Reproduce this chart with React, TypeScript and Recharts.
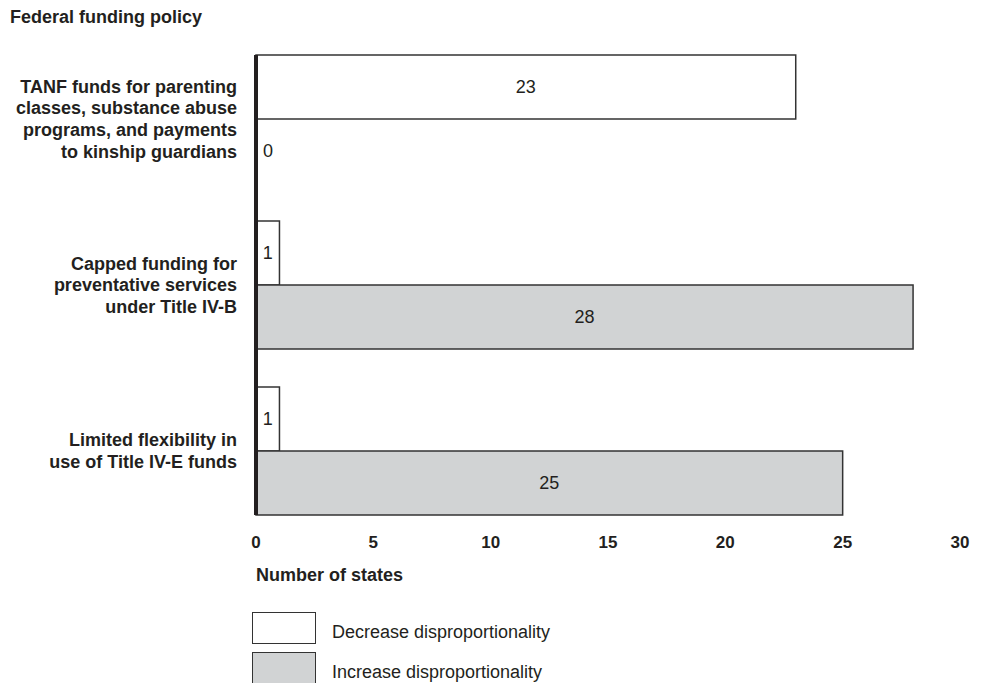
import { BarChart, Bar, XAxis, YAxis, Legend, LabelList } from "recharts";

const categories = [
  "TANF funds for parenting\nclasses, substance abuse\nprograms, and payments\nto kinship guardians",
  "Capped funding for\npreventative services\nunder Title IV-B",
  "Limited flexibility in\nuse of Title IV-E funds",
];
const decreaseValues = [23, 1, 1];
const increaseValues = [0, 28, 25];
const xTicks = [0, 5, 10, 15, 20, 25, 30];

const FONT = "'Liberation Sans', Arial, Helvetica, sans-serif";
const INK = "#231f20";
const GRAY = "#d1d3d4";

const data = categories.map((c, i) => ({
  policy: c,
  decrease: decreaseValues[i],
  increase: increaseValues[i],
}));

function PolicyTick(props: any) {
  const { x, y, payload } = props;
  const lines = String(payload.value).split("\n");
  const lh = 21.7;
  const start = y - ((lines.length - 1) * lh) / 2;
  return (
    <text x={x} y={start} textAnchor="end" fontFamily={FONT} fontSize={18} fontWeight="bold" fill={INK}>
      {lines.map((l, i) => (
        <tspan key={i} x={x} y={start + i * lh} dy="0.35em">
          {l}
        </tspan>
      ))}
    </text>
  );
}

function ValueLabel(props: any) {
  const { x, y, width, height, value } = props;
  // zero bars get their label just right of the axis, like the 1-bars
  const cx = Number(value) === 0 ? x + 12 : x + width / 2;
  return (
    <text x={cx} y={y + height / 2} dy="0.35em" textAnchor="middle" fontFamily={FONT} fontSize={18} fill={INK}>
      {value}
    </text>
  );
}

function LegendBox(props: any) {
  const { payload } = props;
  return (
    <div style={{ fontFamily: FONT, fontSize: 18, color: INK }}>
      {(payload ?? []).map((e: any) => (
        <div key={e.value} style={{ display: "flex", alignItems: "center", height: 40 }}>
          <div
            style={{
              width: 64,
              height: 32,
              boxSizing: "border-box",
              border: "1.5px solid #333",
              background: e.color,
              marginRight: 16,
            }}
          />
          <span style={{ position: "relative", top: 4 }}>{e.value}</span>
        </div>
      ))}
    </div>
  );
}

export default function App() {
  return (
    <div style={{ position: "absolute", left: 0, top: 0, width: 985, height: 683, background: "#fff" }}>
      <div
        style={{
          position: "absolute",
          left: 10,
          top: 6,
          fontFamily: FONT,
          fontSize: 18,
          fontWeight: "bold",
          color: INK,
          lineHeight: "22px",
        }}
      >
        Federal funding policy
      </div>
      <BarChart
        width={985}
        height={683}
        data={data}
        layout="vertical"
        margin={{ top: 55, right: 25, bottom: 88, left: 0 }}
        barCategoryGap={19}
        barGap={0}
      >
        <XAxis
          type="number"
          domain={[0, 30]}
          ticks={xTicks}
          axisLine={false}
          tickLine={false}
          tickMargin={15}
          height={80}
          tick={{ fontFamily: FONT, fontSize: 17, fontWeight: "bold", fill: INK }}
          label={{
            content: (p: any) => (
              <text
                x={p.viewBox.x}
                y={p.viewBox.y + 66}
                fontFamily={FONT}
                fontSize={18}
                fontWeight="bold"
                fill={INK}
              >
                Number of states
              </text>
            ),
          }}
        />
        <YAxis
          type="category"
          dataKey="policy"
          width={256}
          padding={{ top: -19, bottom: -19 }}
          axisLine={{ stroke: INK, strokeWidth: 4 }}
          tickLine={false}
          tickMargin={13}
          tick={<PolicyTick />}
          interval={0}
        />
        <Legend
          layout="horizontal"
          align="center"
          verticalAlign="middle"
          content={<LegendBox />}
          wrapperStyle={{ left: 252, top: 608, width: 400 }}
        />
        <Bar
          dataKey="decrease"
          name="Decrease disproportionality"
          fill="#ffffff"
          stroke="#333"
          strokeWidth={1.5}
          isAnimationActive={false}
        >
          <LabelList dataKey="decrease" content={<ValueLabel />} />
        </Bar>
        <Bar
          dataKey="increase"
          name="Increase disproportionality"
          fill={GRAY}
          stroke="#333"
          strokeWidth={1.5}
          minPointSize={1}
          isAnimationActive={false}
        >
          <LabelList dataKey="increase" content={<ValueLabel />} />
        </Bar>
      </BarChart>
    </div>
  );
}
